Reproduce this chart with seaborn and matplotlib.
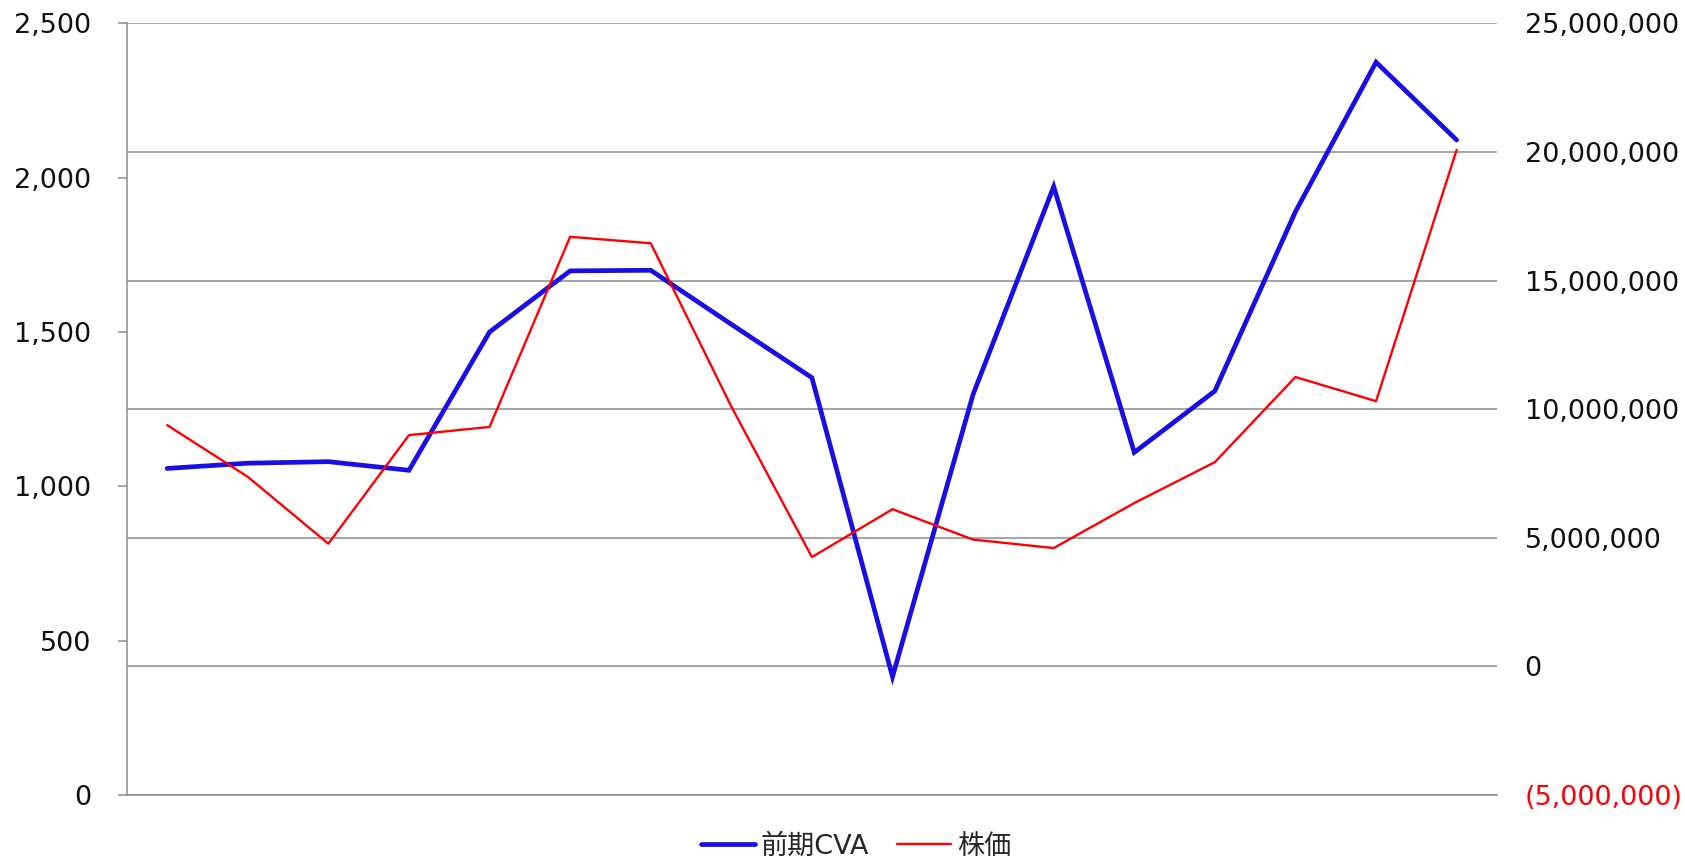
import numpy as np
import pandas as pd
import matplotlib
matplotlib.use("Agg")
import matplotlib.pyplot as plt
import matplotlib.ticker as mtick
import seaborn as sns

# 期 (no labels on the x axis in the original)
periods = [1, 2, 3, 4, 5, 6, 7, 8, 9, 10, 11, 12, 13, 14, 15, 16, 17]
cva = [1058, 1075, 1080, 1052, 1500, 1698, 1700, 1525, 1352, 383,
       1298, 1971, 1110, 1309, 1890, 2374, 2122]
price = [9380000, 7370000, 4770000, 8990000, 9310000, 16700000, 16450000, 10100000, 4250000,
         6110000, 4930000, 4600000, 6350000, 7940000, 11250000, 10310000, 20080000]
cva_ticks = [0, 500, 1000, 1500, 2000, 2500]
price_ticks = [-5000000, 0, 5000000, 10000000, 15000000, 20000000, 25000000]
labels = ["前期CVA", "株価"]

sns.set_theme(style="white")
plt.rcParams['font.family'] = ['DejaVu Sans', 'Noto Sans CJK JP']

BLUE = "#1a0fe3"
RED = "#ff0000"
GRID = "#8c8c8c"

df = pd.DataFrame({"period": periods, "cva": cva, "price": price})

fig = plt.figure(figsize=(16.85, 8.58), dpi=100)
ax = fig.add_axes([0.0753, 0.0734, 0.8131, 0.8994])
ax_g = ax.twinx()   # right scale: gridlines + tick labels
ax_r = ax.twinx()   # right scale: red line on top
ax_g.set_zorder(0)
ax.set_zorder(1)
ax_r.set_zorder(2)
ax.patch.set_visible(False)
ax_r.patch.set_visible(False)

sns.lineplot(data=df, x="period", y="cva", ax=ax, color=BLUE, linewidth=3.4,
             label=labels[0], legend=False, solid_capstyle='round', solid_joinstyle='miter')
sns.lineplot(data=df, x="period", y="price", ax=ax_r, color=RED, linewidth=1.7,
             label=labels[1], legend=False)

for a in (ax, ax_g, ax_r):
    a.set_xlim(0.5, len(periods) + 0.5)
    a.set_xlabel("")
    a.set_ylabel("")
    a.set_xticks([])
    for s in a.spines.values():
        s.set_visible(False)

ax.set_ylim(0, 2500)
ax.set_yticks(cva_ticks)
ax.yaxis.set_major_formatter(mtick.StrMethodFormatter("{x:,.0f}"))
ax.tick_params(axis='y', which='major', left=True, length=6.5, width=1.1, color=GRID,
               pad=19, labelsize=19.5, labelcolor="#111111")
ax.spines['left'].set_visible(True)
ax.spines['left'].set_color(GRID)
ax.spines['left'].set_linewidth(1.1)
ax.spines['bottom'].set_visible(True)
ax.spines['bottom'].set_color(GRID)
ax.spines['bottom'].set_linewidth(1.1)

for a in (ax_g, ax_r):
    a.set_ylim(price_ticks[0], price_ticks[-1])

ax_g.set_yticks(price_ticks)
ax_g.yaxis.set_major_formatter(
    mtick.FuncFormatter(lambda v, p: f"({abs(v):,.0f})" if v < 0 else f"{v:,.0f}"))
ax_g.tick_params(axis='y', right=True, length=0, pad=20, labelsize=19.5, labelcolor="#111111")
ax_g.grid(axis='y', color=GRID, linewidth=1.1)
for t, v in zip(ax_g.get_yticklabels(), price_ticks):
    if v < 0:
        t.set_color(RED)

ax_r.set_yticks([])

h1, l1 = ax.get_legend_handles_labels()
h2, l2 = ax_r.get_legend_handles_labels()
fig.legend(h1 + h2, l1 + l2, loc='center', bbox_to_anchor=(0.508, 0.013), ncol=2,
           frameon=False, handlelength=2.0, handletextpad=0.2, columnspacing=1.05,
           prop={'family': ['DejaVu Sans', 'Noto Sans CJK JP'], 'size': 19.5})

fig.savefig("out.png", dpi=100)
plt.close(fig)
